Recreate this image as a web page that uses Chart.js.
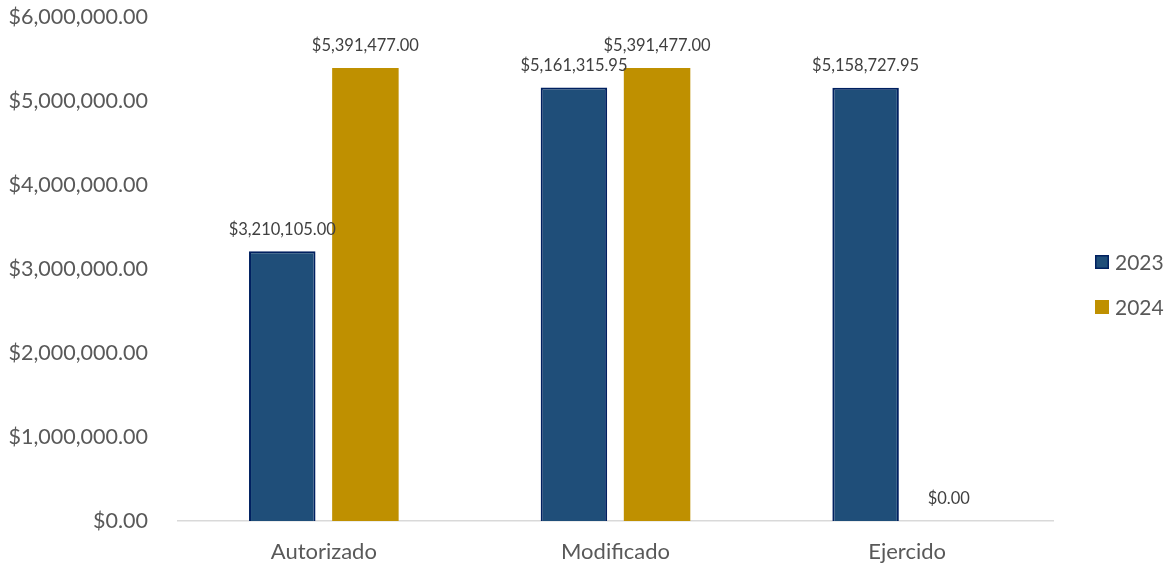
<!DOCTYPE html>
<html>
<head>
<meta charset="utf-8">
<script src="https://cdn.jsdelivr.net/npm/chart.js@4/dist/chart.umd.min.js"></script>
<style>
  html, body { margin: 0; padding: 0; background: #fff; }
  #wrap { width: 1169px; height: 567px; position: relative; }
</style>
</head>
<body>
<div id="wrap"><canvas id="chart"></canvas></div>
<script>
// --- Data ---
const categories = ['Autorizado', 'Modificado', 'Ejercido'];
const values2023 = [3210105.00, 5161315.95, 5158727.95];
const values2024 = [5391477.00, 5391477.00, 0];
const seriesNames = ['2023', '2024'];
const seriesColors = ['#1F4E79', '#BF9000'];
const seriesBorders = ['#002060', '#BF9000'];

const FONT = "Lato, 'Open Sans', sans-serif";

const money = v => '$' + v.toLocaleString('en-US', { minimumFractionDigits: 2, maximumFractionDigits: 2 });

// value labels above each bar
const barLabels = {
    id: 'barLabels',
    afterDatasetsDraw(chart) {
        const ctx = chart.ctx;
        ctx.save();
        ctx.font = '16.5px ' + FONT;
        ctx.fillStyle = '#404040';
        ctx.textAlign = 'center';
        ctx.textBaseline = 'middle';
        chart.data.datasets.forEach((ds, i) => {
            chart.getDatasetMeta(i).data.forEach((bar, j) => {
                ctx.fillText(money(ds.data[j]), bar.x, bar.y - 22);
            });
        });
        ctx.restore();
    }
};

// legend drawn on the right, like the original
const sideLegend = {
    id: 'sideLegend',
    afterDraw(chart) {
        const ctx = chart.ctx;
        const x = chart.chartArea.right + 42;
        const y0 = 262;
        ctx.save();
        ctx.font = '21px ' + FONT;
        ctx.textBaseline = 'middle';
        chart.data.datasets.forEach((ds, i) => {
            const y = y0 + i * 45;
            ctx.fillStyle = ds.backgroundColor;
            ctx.fillRect(x, y - 7, 14, 14);
            if (ds.borderWidth) {
                ctx.strokeStyle = ds.borderColor;
                ctx.lineWidth = 1.5;
                ctx.strokeRect(x + 0.75, y - 6.25, 12.5, 12.5);
            }
            ctx.fillStyle = '#595959';
            ctx.fillText(ds.label, x + 20, y + 1);
        });
        ctx.restore();
    }
};

new Chart(document.getElementById('chart'), {
    type: 'bar',
    data: {
        labels: categories,
        datasets: seriesNames.map((name, i) => ({
            label: name,
            data: i === 0 ? values2023 : values2024,
            backgroundColor: seriesColors[i],
            borderColor: seriesBorders[i],
            borderWidth: i === 0 ? 2 : 0
        }))
    },
    options: {
        responsive: true,
        maintainAspectRatio: false,
        animation: false,
        categoryPercentage: 0.57,
        barPercentage: 0.8,
        layout: { padding: { top: 0, left: 0, right: 116, bottom: 0 } },
        scales: {
            y: {
                min: 0,
                max: 6000000,
                afterFit: s => { s.width = 178; s.paddingTop = 17; s.paddingBottom = 0; },
                grid: { display: false, drawTicks: false },
                border: { display: false },
                ticks: {
                    stepSize: 1000000,
                    padding: 30,
                    color: '#595959',
                    font: { family: FONT, size: 21.5 },
                    callback: v => money(v)
                }
            },
            x: {
                afterFit: s => { s.height = 46; },
                grid: { display: false, drawTicks: false },
                border: { display: true, color: '#d9d9d9', width: 1.5 },
                ticks: {
                    padding: 18,
                    color: '#595959',
                    font: { family: FONT, size: 22 }
                }
            }
        },
        plugins: {
            legend: { display: false },
            tooltip: { enabled: false }
        }
    },
    plugins: [barLabels, sideLegend]
});
</script>
</body>
</html>
